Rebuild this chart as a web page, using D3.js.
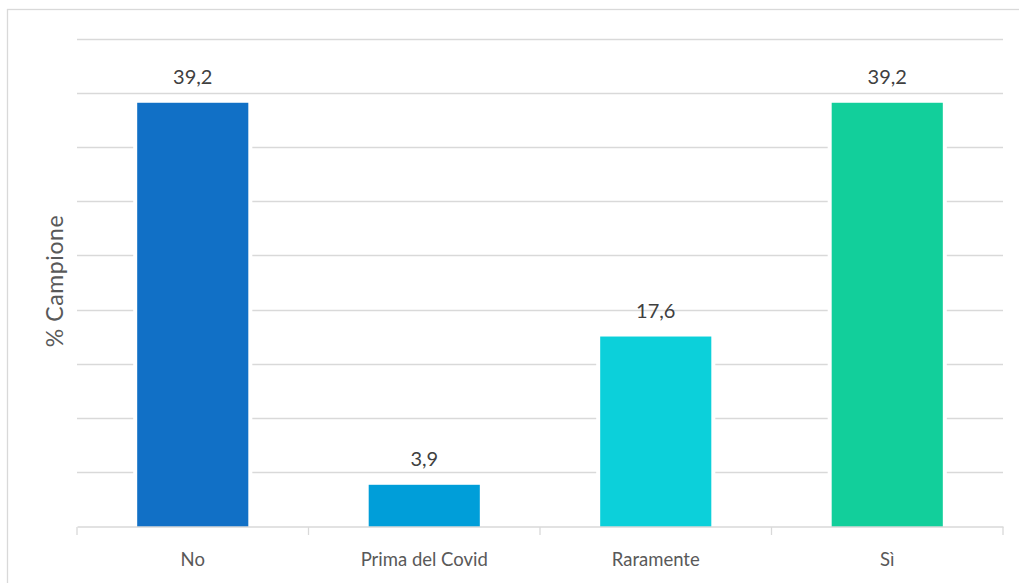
<!DOCTYPE html>
<html>
<head>
<meta charset="utf-8">
<script src="https://cdn.jsdelivr.net/npm/d3@7"></script>
<style>
  html, body { margin: 0; padding: 0; background: #fff; }
  svg { display: block; }
  text { font-family: Lato, "Open Sans", sans-serif; }
</style>
</head>
<body>
<svg id="chart" width="1019" height="583"></svg>
<script>
// Survey answers and their share of the sample (%)
const categories = ["No", "Prima del Covid", "Raramente", "Sì"];
const values = [39.2, 3.9, 17.6, 39.2];
const valueLabels = ["39,2", "3,9", "17,6", "39,2"];
const barColors = ["#1170C6", "#009ED9", "#0CD0DA", "#12CF9B"];
const yTicks = [0, 5, 10, 15, 20, 25, 30, 35, 40, 45];
const yTitle = "% Campione";

const svg = d3.select("#chart");
const W = 1019, H = 583;
const plot = { left: 77, right: 1003, top: 40, bottom: 527 };

// layers, back to front
const frameLayer = svg.append("g");
const gridLayer = svg.append("g");
const gapLayer = svg.append("g");
const barLayer = svg.append("g");
const axisLayer = svg.append("g");
const labelLayer = svg.append("g");

// outer chart frame
frameLayer.append("rect")
  .attr("x", 7.5).attr("y", 9.5)
  .attr("width", W + 10).attr("height", H + 10)
  .attr("fill", "#fff").attr("stroke", "#D9D9D9").attr("stroke-width", 1.3);

const x = d3.scaleBand().domain(categories)
  .range([plot.left, plot.right]).paddingInner(0.52).paddingOuter(0.26);
const xBand = d3.scaleBand().domain(categories)
  .range([plot.left, plot.right]).padding(0);
const y = d3.scaleLinear().domain([0, 45]).range([plot.bottom, plot.top]);

// horizontal gridlines
gridLayer.selectAll("line")
  .data(yTicks.filter(t => t > 0))
  .join("line")
  .attr("x1", plot.left).attr("x2", plot.right)
  .attr("y1", d => Math.round(y(d)) - 0.5).attr("y2", d => Math.round(y(d)) - 0.5)
  .attr("stroke", "#D9D9D9").attr("stroke-width", 1.3);

// white margin around each bar interrupting the grid
gapLayer.selectAll("rect")
  .data(values)
  .join("rect")
  .attr("x", (d, i) => x(categories[i]) - 4)
  .attr("y", d => y(d) - 4)
  .attr("width", x.bandwidth() + 8)
  .attr("height", d => y(0) - y(d) + 4)
  .attr("fill", "#fff");

// bars
barLayer.selectAll("rect")
  .data(values)
  .join("rect")
  .attr("x", (d, i) => x(categories[i]))
  .attr("y", d => y(d))
  .attr("width", x.bandwidth())
  .attr("height", d => y(0) - y(d))
  .attr("fill", (d, i) => barColors[i]);

// category axis: baseline with ticks at band boundaries
const axisG = axisLayer.append("g")
  .attr("transform", `translate(0,${plot.bottom - 0.5})`)
  .call(d3.axisBottom(xBand).tickSize(0).tickPadding(0).tickFormat(""));
axisG.select(".domain").attr("stroke", "#D9D9D9").attr("stroke-width", 1.3);
axisG.selectAll(".tick").remove();

const bounds = categories.map(c => xBand(c)).concat([plot.right]);
axisLayer.append("g")
  .selectAll("line")
  .data(bounds)
  .join("line")
  .attr("x1", d => d).attr("x2", d => d)
  .attr("y1", plot.bottom).attr("y2", plot.bottom + 8)
  .attr("stroke", "#D9D9D9").attr("stroke-width", 1.3);

axisLayer.append("g")
  .selectAll("text")
  .data(categories)
  .join("text")
  .attr("x", d => xBand(d) + xBand.bandwidth() / 2)
  .attr("y", 566)
  .attr("text-anchor", "middle")
  .attr("fill", "#595959")
  .attr("font-size", 18.5)
  .text(d => d);

// value labels above bars
labelLayer.selectAll("text")
  .data(values)
  .join("text")
  .attr("x", (d, i) => x(categories[i]) + x.bandwidth() / 2)
  .attr("y", d => y(d) - 19)
  .attr("text-anchor", "middle")
  .attr("fill", "#404040")
  .attr("font-size", 20)
  .text((d, i) => valueLabels[i]);

// y axis title
labelLayer.append("text")
  .attr("transform", `translate(63,281) rotate(-90)`)
  .attr("text-anchor", "middle")
  .attr("fill", "#595959")
  .attr("font-size", 23)
  .attr("letter-spacing", 0.6)
  .text(yTitle);
</script>
</body>
</html>
